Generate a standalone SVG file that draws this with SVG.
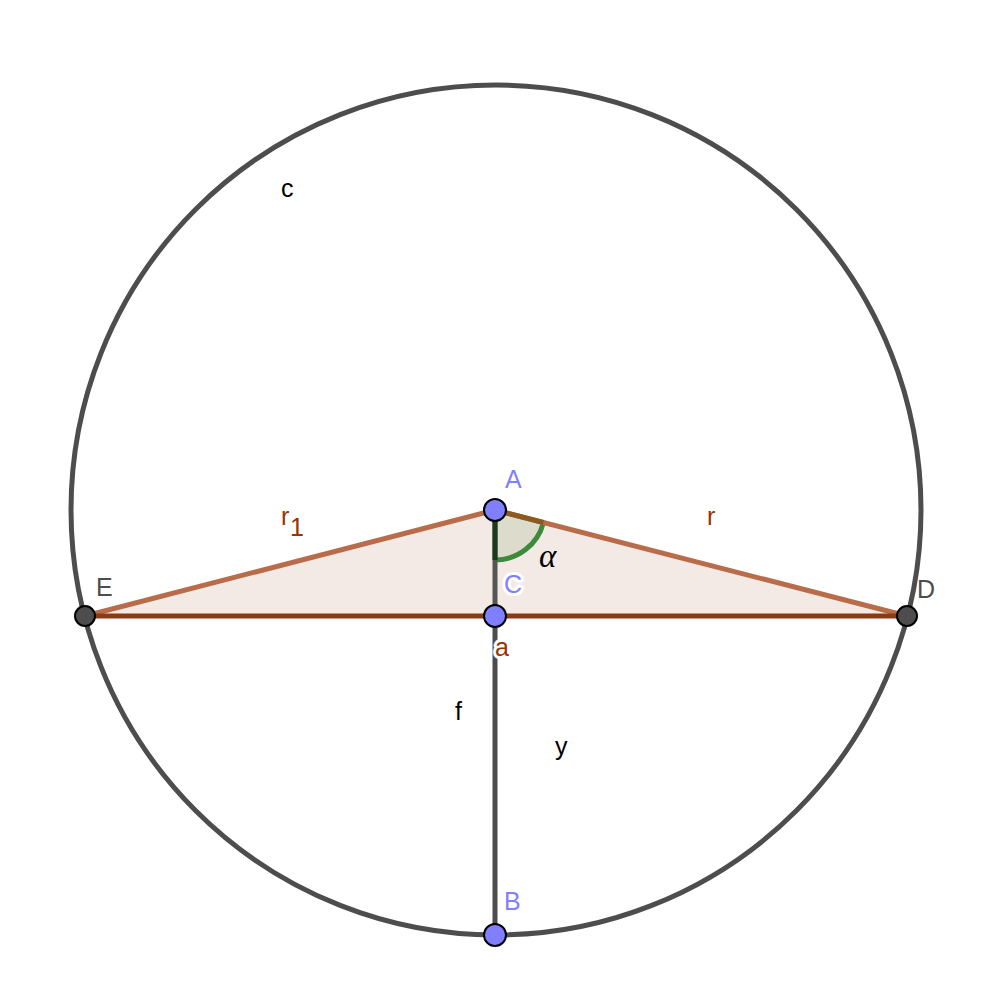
<svg xmlns="http://www.w3.org/2000/svg" width="1000" height="999" viewBox="0 0 1000 999">
<style>
.lbl{font-family:"Liberation Sans",Arial,sans-serif;font-size:25px}
.blue{fill:#7f7fff}
.grey{fill:#4d4d4d}
.brown{fill:#993300}
.blk{fill:#000}
.halo{stroke:#fff;stroke-width:6;paint-order:stroke;stroke-linejoin:round}
.pt{stroke:#000;stroke-width:2}
</style>
<rect width="1000" height="999" fill="#fff"/>
<g id="circle-c">
<circle cx="496" cy="510" r="425" fill="none" stroke="#4d4d4d" stroke-width="5"/>
</g>
<g id="triangle">
<polygon points="85,616 495,510 907,616" fill="#f4eae5"/>
</g>
<g id="angle-alpha">
<path d="M495,510 L543.4,522.5 A50,50 0 0 1 495,560 Z" fill="#dcdccd"/>
<path d="M543.4,522.5 A50,50 0 0 1 495,560" fill="none" stroke="#3d8a3d" stroke-width="5"/>
</g>
<g id="connectors">
<line x1="85" y1="616" x2="495" y2="510" stroke="#b86c4a" stroke-width="5"/>
<line x1="495" y1="510" x2="907" y2="616" stroke="#b86c4a" stroke-width="5"/>
<line x1="495" y1="510" x2="543.4" y2="522.5" stroke="#8a5a1e" stroke-width="5"/>
<line x1="85" y1="616" x2="907" y2="616" stroke="#8b3a14" stroke-width="5"/>
<line x1="495" y1="510" x2="495" y2="616" stroke="#555" stroke-width="5"/>
<line x1="495" y1="510" x2="495" y2="560" stroke="#1a3a1a" stroke-width="5"/>
<line x1="495" y1="616" x2="495" y2="935" stroke="#4d4d4d" stroke-width="5"/>
</g>
<g id="point-E"><circle class="pt" cx="85" cy="616" r="10" fill="#4d4d4d"/><text class="lbl grey" x="96" y="596">E</text></g>
<g id="point-D"><circle class="pt" cx="907" cy="616" r="10" fill="#4d4d4d"/><text class="lbl grey" x="917" y="598">D</text></g>
<g id="point-A"><circle class="pt" cx="495" cy="510" r="11" fill="#7f7fff"/><text class="lbl blue" x="505" y="488">A</text></g>
<g id="point-C"><circle class="pt" cx="495" cy="616" r="11" fill="#7f7fff"/><text class="lbl blue halo" x="504" y="593">C</text></g>
<g id="point-B"><circle class="pt" cx="495" cy="935" r="11" fill="#7f7fff"/><text class="lbl blue" x="504" y="910">B</text></g>
<g id="labels">
<text class="lbl brown halo" x="495" y="656">a</text>
<text class="lbl brown" x="281" y="525">r</text>
<text class="lbl brown" x="290" y="536" font-size="21">1</text>
<text class="lbl brown" x="707" y="525">r</text>
<text x="539" y="567" font-family="'Liberation Serif',serif" font-style="italic" font-size="33" fill="#000">α</text>
<text class="lbl blk" x="281" y="197">c</text>
<text class="lbl blk" x="455" y="720">f</text>
<text class="lbl blk" x="555" y="755">y</text>
</g>
</svg>
